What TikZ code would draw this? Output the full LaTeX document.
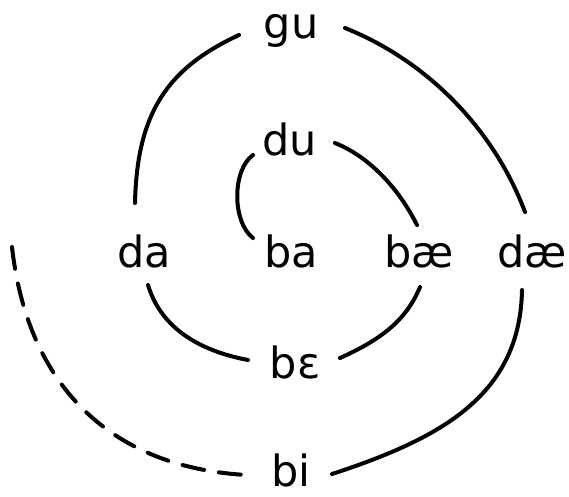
\documentclass[tikz,border=0pt]{standalone}
\usepackage{fontspec}
\setmainfont{DejaVu Sans}
\begin{document}
\begin{tikzpicture}[x=1pt,y=-1pt,
  lbl/.style={font=\fontsize{43}{43}\selectfont, inner sep=0pt, anchor=base},
  arc/.style={line width=4pt, line cap=round},
  dasharc/.style={arc, dash pattern=on 22pt off 15pt}]
\useasboundingbox (0,0) rectangle (569,496);
% labels
\node[lbl] (gu) at (291,38) {gu};
\node[lbl] (du) at (289.5,155) {du};
\node[lbl] (da) at (144.5,267) {da};
\node[lbl] (ba) at (291.5,267) {ba};
\node[lbl] (bae) at (419,267) {bæ};
\node[lbl] (dae) at (532,267) {dæ};
\node[lbl] (bE) at (295,378) {bɛ};
\node[lbl, text depth=0pt] (bi) at (291,486) {bi};
% connector ends
\coordinate (gu-l) at (239,35);
\coordinate (gu-r) at (345,28);
\coordinate (da-t) at (135,203);
\coordinate (dae-t) at (525,212);
\coordinate (du-l) at (253,155);
\coordinate (du-r) at (335,143);
\coordinate (ba-t) at (253,238);
\coordinate (bae-t) at (417,225);
\coordinate (da-b) at (148,285);
\coordinate (bae-b) at (420,287);
\coordinate (bE-l) at (248,360);
\coordinate (bE-r) at (340,358);
\coordinate (bi-l) at (247,475);
\coordinate (bi-r) at (332,474);
\coordinate (dae-b) at (522,290);
\coordinate (free) at (12,247);
% connectors
\draw[arc] (gu-l) .. controls (168,68) and (137,112) .. (da-t);
\draw[arc] (gu-r) .. controls (430,62) and (495,132) .. (dae-t);
\draw[arc] (du-l) .. controls (232,170) and (232,222) .. (ba-t);
\draw[arc] (du-r) .. controls (370,157) and (399,189) .. (bae-t);
\draw[arc] (da-b) .. controls (160,325) and (195,350) .. (bE-l);
\draw[arc] (bae-b) .. controls (406,321) and (380,340) .. (bE-r);
\draw[arc] (bi-r) .. controls (442,438) and (520,395) .. (dae-b);
\draw[dasharc] (free) .. controls (28,390) and (115,468) .. (bi-l);
\end{tikzpicture}
\end{document}
